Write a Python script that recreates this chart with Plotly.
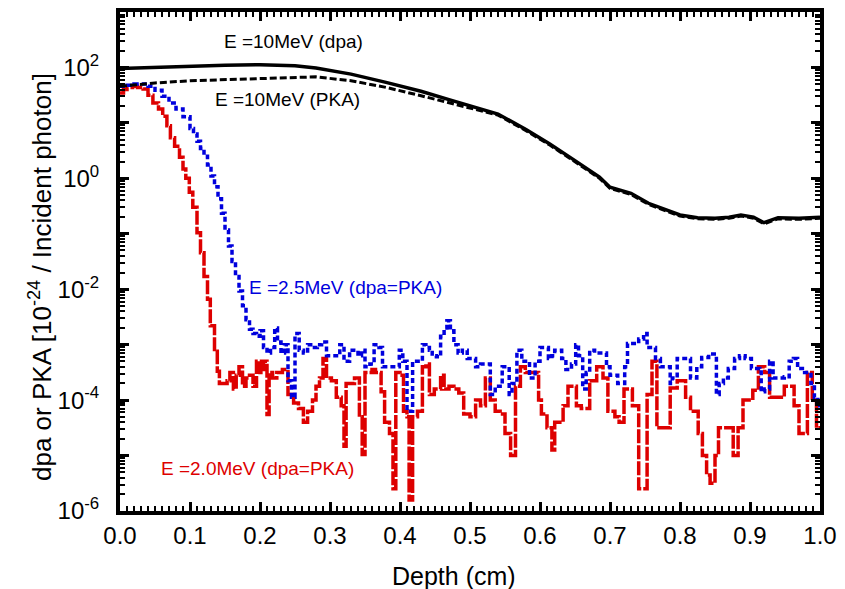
import plotly.graph_objects as go

# ---- data (depth in cm; values read as log10 of dpa/PKA per incident photon) ----
dpa10_x = [0, .05, .10, .15, .20, .25, .28, .33, .38, .43, .47, .51, .54, .58, .614, .65, .685, .70,
           .73, .755, .78, .80, .825, .85, .87, .887, .905, .92, .94, .97, 1.0]
dpa10_log = [1.98, 2.00, 2.03, 2.04, 2.05, 2.03, 1.99, 1.88, 1.73, 1.57, 1.42, 1.27, 1.16, 0.88, 0.62,
             0.32, 0.02, -0.16, -0.27, -0.45, -0.57, -0.66, -0.71, -0.72, -0.70, -0.66, -0.70, -0.80,
             -0.71, -0.72, -0.70]

pka10_x = [0, .05, .10, .19, .25, .28, .33, .38, .43, .47, .51, .54, .58, .614, .65, .685, .70,
           .73, .755, .78, .80, .825, .85, .87, .887, .905, .92, .94, .97, 1.0]
pka10_log = [1.66, 1.72, 1.76, 1.80, 1.83, 1.83, 1.76, 1.64, 1.49, 1.36, 1.24, 1.14, 0.86, 0.60,
             0.30, 0.00, -0.18, -0.29, -0.47, -0.59, -0.68, -0.73, -0.74, -0.72, -0.68, -0.72,
             -0.82, -0.73, -0.74, -0.72]

e25_x = [0, .01, .02, .03, .04, .05, .06, .07, .08, .09, .10, .105, .11, .115, .12, .125, .13, .135,
         .14, .145, .15, .155, .16, .165, .17, .175, .18, .185, .19, .195, .20, .205, .21, .215, .221,
         .225, .23, .235, .24, .245, .25, .256, .262, .268, .275, .282, .288, .295, .305, .314, .32,
         .328, .335, .34, .345, .35, .357, .363, .37, .375, .385, .394, .399, .404, .41, .418, .427,
         .432, .437, .442, .446, .452, .458, .463, .467, .472, .477, .483, .489, .496, .502, .508,
         .515, .522, .529, .536, .546, .553, .556, .56, .567, .574, .58, .585, .593, .60, .608, .612,
         .617, .621, .631, .637, .645, .651, .655, .661, .666, .671, .678, .69, .695, .70, .711, .718,
         .721, .725, .735, .741, .748, .753, .765, .772, .784, .786, .789, .796, .805, .812, .815,
         .824, .831, .841, .85, .852, .856, .862, .869, .878, .885, .893, .902, .914, .916, .921,
         .928, .933, .949, .956, .962, .968, .978, .987, .992, .997, 1.0]
e25_log = [1.66, 1.68, 1.70, 1.70, 1.66, 1.59, 1.48, 1.36, 1.25, 1.11, 0.90, 0.80, 0.67, 0.54, 0.40,
           0.24, 0.04, -0.15, -0.37, -0.63, -0.93, -1.22, -1.50, -1.77, -2.03, -2.30, -2.55, -2.72,
           -2.80, -2.85, -2.75, -3.05, -3.15, -3.05, -2.70, -2.95, -3.15, -3.00, -3.65, -3.95, -2.80,
           -3.10, -3.15, -3.00, -3.05, -3.00, -2.95, -3.20, -3.20, -3.00, -3.30, -3.10, -3.10, -3.20,
           -3.10, -3.40, -3.35, -3.00, -3.05, -3.40, -3.40, -3.40, -3.10, -3.30, -4.20, -3.30, -3.30,
           -3.00, -3.05, -3.10, -3.20, -3.22, -2.85, -2.70, -2.57, -2.75, -3.00, -3.15, -3.10, -3.25,
           -3.25, -3.40, -3.35, -3.35, -3.90, -3.75, -3.40, -3.40, -3.90, -3.70, -3.10, -3.30, -3.30,
           -3.60, -3.30, -3.05, -3.05, -3.25, -3.20, -3.10, -3.25, -3.45, -3.35, -3.00, -3.20, -3.80,
           -3.50, -3.10, -3.15, -3.15, -3.40, -3.55, -3.70, -3.70, -3.40, -2.98, -2.98, -2.90, -2.80,
           -3.05, -3.25, -3.40, -3.40, -3.70, -3.60, -3.25, -3.25, -3.25, -3.60, -3.40, -3.23, -3.17,
           -3.17, -3.90, -3.70, -3.60, -3.43, -3.25, -3.20, -3.25, -3.43, -3.45, -3.85, -3.80, -3.30,
           -3.60, -3.58, -3.30, -3.25, -3.43, -3.50, -3.70, -3.95, -4.10, -4.10]

e20_x = [0, .005, .01, .018, .025, .033, .04, .047, .055, .061, .067, .072, .078, .085, .09, .094,
         .099, .104, .11, .115, .12, .125, .129, .135, .139, .142, .147, .153, .157, .162, .166, .17,
         .175, .18, .185, .19, .195, .20, .205, .21, .213, .218, .224, .232, .24, .248, .255, .262,
         .268, .275, .28, .285, .29, .295, .302, .309, .316, .32, .323, .33, .335, .342, .346, .35,
         .36, .365, .373, .378, .385, .39, .394, .40, .405, .41, .413, .418, .425, .432, .437, .442,
         .449, .458, .463, .47, .477, .484, .491, .50, .508, .515, .522, .529, .536, .543, .55, .558,
         .565, .572, .579, .59, .598, .602, .61, .617, .621, .633, .64, .652, .659, .671, .681, .69,
         .697, .707, .713, .72, .732, .741, .748, .753, .76, .767, .786, .796, .808, .815, .826, .832,
         .838, .843, .85, .855, .86, .876, .883, .89, .897, .904, .912, .921, .928, .937, .949, .963,
         .97, .982, .989, .995, 1.0]
e20_log = [1.54, 1.60, 1.64, 1.66, 1.64, 1.61, 1.50, 1.36, 1.25, 1.12, 0.95, 0.73, 0.58, 0.38, 0.17,
           0.00, -0.25, -0.52, -0.98, -1.34, -1.77, -2.18, -2.66, -3.12, -3.48, -3.70, -3.70, -3.65,
           -3.50, -3.80, -3.55, -3.40, -3.75, -3.60, -3.55, -3.75, -3.30, -3.50, -3.30, -4.26, -3.50,
           -3.60, -3.50, -3.45, -3.90, -4.05, -4.15, -4.40, -4.20, -4.00, -3.75, -3.60, -3.25, -3.60,
           -3.65, -3.95, -4.10, -4.83, -3.70, -3.70, -3.60, -4.30, -4.98, -3.50, -3.45, -3.50, -3.85,
           -4.40, -4.60, -5.60, -3.50, -3.55, -4.20, -4.30, -5.80, -4.30, -4.20, -3.40, -3.35, -3.90,
           -3.80, -3.55, -3.80, -3.75, -3.80, -3.87, -4.25, -4.30, -4.00, -4.10, -3.60, -4.00, -4.20,
           -4.25, -4.60, -5.00, -3.75, -3.40, -3.50, -3.50, -4.00, -4.25, -4.50, -4.90, -4.40, -4.10,
           -3.75, -4.10, -4.15, -3.65, -3.40, -3.60, -4.20, -4.30, -4.40, -3.80, -4.10, -5.60, -5.60,
           -3.90, -3.30, -4.50, -3.78, -3.65, -3.95, -4.20, -4.60, -5.00, -5.35, -5.50, -5.00, -4.50,
           -4.50, -5.00, -4.50, -4.00, -4.00, -3.82, -3.40, -3.50, -3.95, -3.95, -3.75, -4.10, -4.60,
           -3.50, -4.00, -4.50, -4.50]

labels = ["E =10MeV (dpa)", "E =10MeV (PKA)", "E =2.5MeV (dpa=PKA)", "E =2.0MeV (dpa=PKA)"]
y_tick_exp = [-6, -5, -4, -3, -2, -1, 0, 1, 2, 3]
x_ticks = [0.0, 0.1, 0.2, 0.3, 0.4, 0.5, 0.6, 0.7, 0.8, 0.9, 1.0]
x_title = "Depth (cm)"
y_title = "dpa or PKA [10<sup>-24</sup> / Incident photon]"

BLACK, BLUE, RED = "#000000", "#0000DD", "#DD0000"
FONT = "Liberation Sans, Arial, sans-serif"
W, H = 845, 589
L, R, T, B = 112, 33, 4, 86
OFF = 8  # page body margin offset of the figure in the window
PW, PH = W - L - R, H - T - B


def vals(logs):
    return [10 ** v for v in logs]


def px(sx):
    return (sx - OFF - L) / PW


def py(sy):
    return 1 - (sy - OFF - T) / PH


fig = go.Figure()
fig.add_trace(go.Scatter(x=e20_x, y=vals(e20_log), mode="lines", line_shape="hv",
                         line=dict(color=RED, width=3.5, dash="14px,2px"), name=labels[3]))
fig.add_trace(go.Scatter(x=e25_x, y=vals(e25_log), mode="lines", line_shape="hv",
                         line=dict(color=BLUE, width=3.5, dash="5px,3px"), name=labels[2]))
fig.add_trace(go.Scatter(x=pka10_x, y=vals(pka10_log), mode="lines",
                         line=dict(color=BLACK, width=3, dash="7px,3px"), name=labels[1]))
fig.add_trace(go.Scatter(x=dpa10_x, y=vals(dpa10_log), mode="lines",
                         line=dict(color=BLACK, width=3.5), name=labels[0]))

ann = [
    (labels[0], 293, 42, BLACK),
    (labels[1], 287, 99, BLACK),
    (labels[2], 345, 287, BLUE),
    (labels[3], 257, 468, RED),
]
for text, sx, sy, col in ann:
    fig.add_annotation(x=px(sx), y=py(sy), xref="paper", yref="paper", text=text, showarrow=False,
                       xanchor="center", yanchor="middle",
                       font=dict(family=FONT, size=19, color=col))

fig.add_annotation(x=px(454), y=py(576), xref="paper", yref="paper", text=x_title, showarrow=False,
                   xanchor="center", yanchor="middle", font=dict(family=FONT, size=25, color=BLACK))
fig.add_annotation(x=px(40), y=py(277), xref="paper", yref="paper", text=y_title, showarrow=False,
                   textangle=-90, xanchor="center", yanchor="middle",
                   font=dict(family=FONT, size=26, color=BLACK))

ticktext = []
for e in y_tick_exp:
    if e % 2 == 0 and e < 3:
        ticktext.append("10<sup>%s</sup>" % (str(e) if e >= 0 else "-" + str(-e)))
    else:
        ticktext.append("")

fig.update_xaxes(range=[0, 1], showline=True, linewidth=4, linecolor=BLACK, mirror="allticks",
                 ticks="inside", ticklen=9, tickwidth=3, tickcolor=BLACK, automargin=False,
                 tickvals=x_ticks, ticktext=["%.1f" % v for v in x_ticks],
                 minor=dict(dtick=0.01, ticks="inside", ticklen=5, tickwidth=2, tickcolor=BLACK),
                 showgrid=False, zeroline=False,
                 tickfont=dict(family=FONT, size=24, color=BLACK))
fig.update_yaxes(type="log", range=[-6, 3], showline=True, linewidth=4, linecolor=BLACK,
                 mirror="allticks", ticks="inside", ticklen=9, tickwidth=3, tickcolor=BLACK,
                 automargin=False, ticklabelstandoff=12,
                 tickvals=[10 ** e for e in y_tick_exp], ticktext=ticktext,
                 minor=dict(dtick="D1", ticks="inside", ticklen=5, tickwidth=2, tickcolor=BLACK),
                 showgrid=False, zeroline=False,
                 tickfont=dict(family=FONT, size=24, color=BLACK))

fig.update_layout(width=W, height=H, margin=dict(l=L, r=R, t=T, b=B),
                  paper_bgcolor="white", plot_bgcolor="white", showlegend=False,
                  font=dict(family=FONT))

fig.write_html("out.html")
